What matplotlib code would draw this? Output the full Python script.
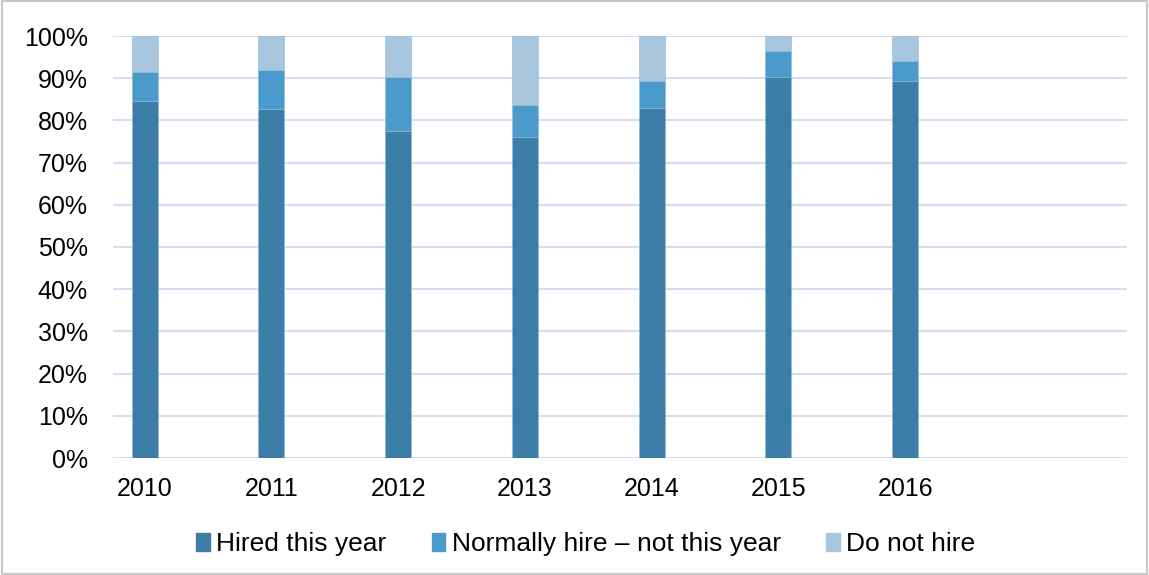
import matplotlib
matplotlib.use('Agg')
import matplotlib.pyplot as plt
import matplotlib.patches as mpatches
import numpy as np

years = ['2010', '2011', '2012', '2013', '2014', '2015', '2016']
hired = [84.7, 82.6, 77.6, 76.0, 82.9, 90.4, 89.3]
normally = [6.7, 9.3, 12.6, 7.6, 6.5, 6.1, 4.8]
do_not = [100 - h - n for h, n in zip(hired, normally)]
labels = ['Hired this year', 'Normally hire \u2013 not this year', 'Do not hire']
colors = ['#3C7EA8', '#4A9BCB', '#A9C6DF']

plt.rcParams['font.family'] = ['Liberation Sans', 'DejaVu Sans']

fig = plt.figure(figsize=(11.49, 5.75), dpi=100)
ax = fig.add_axes([113 / 1149, 1 - 458 / 575, (1127 - 113) / 1149, (458 - 36) / 575])

x = np.arange(len(years))
w = 0.205
bottom = np.zeros(len(years))
for vals, col, lab in zip([hired, normally, do_not], colors, labels):
    ax.bar(x, vals, w, bottom=bottom, color=col, edgecolor='#8FB8D6', linewidth=0.4, label=lab, zorder=3)
    bottom += np.array(vals)

ax.set_xlim(-0.25, 7.75)
ax.set_ylim(0, 100)
ax.set_yticks(np.arange(0, 101, 10))
ax.set_yticklabels([f'{v}%' for v in range(0, 101, 10)])
ax.set_xticks(x)
ax.set_xticklabels(years)
ax.tick_params(axis='both', length=0, labelsize=18, colors='black')
ax.tick_params(axis='y', pad=18)
ax.tick_params(axis='x', pad=14)
ax.grid(axis='y', color='#D3DFF1', linewidth=1.5, zorder=0)
for s in ax.spines.values():
    s.set_visible(False)

handles = [mpatches.Patch(color=c) for c in colors]
fig.legend(handles, labels, loc='center', bbox_to_anchor=(0.5096, 1 - 544 / 575), ncol=3,
           frameon=False, fontsize=19, handlelength=0.53, handleheight=0.7,
           handletextpad=0.23, columnspacing=1.7)

fig.patches.append(mpatches.Rectangle((0.002, 0.002), 0.996, 0.996, transform=fig.transFigure,
                                      fill=False, edgecolor='#C8C8C8', linewidth=1.5))

fig.savefig('out.png', dpi=100)
